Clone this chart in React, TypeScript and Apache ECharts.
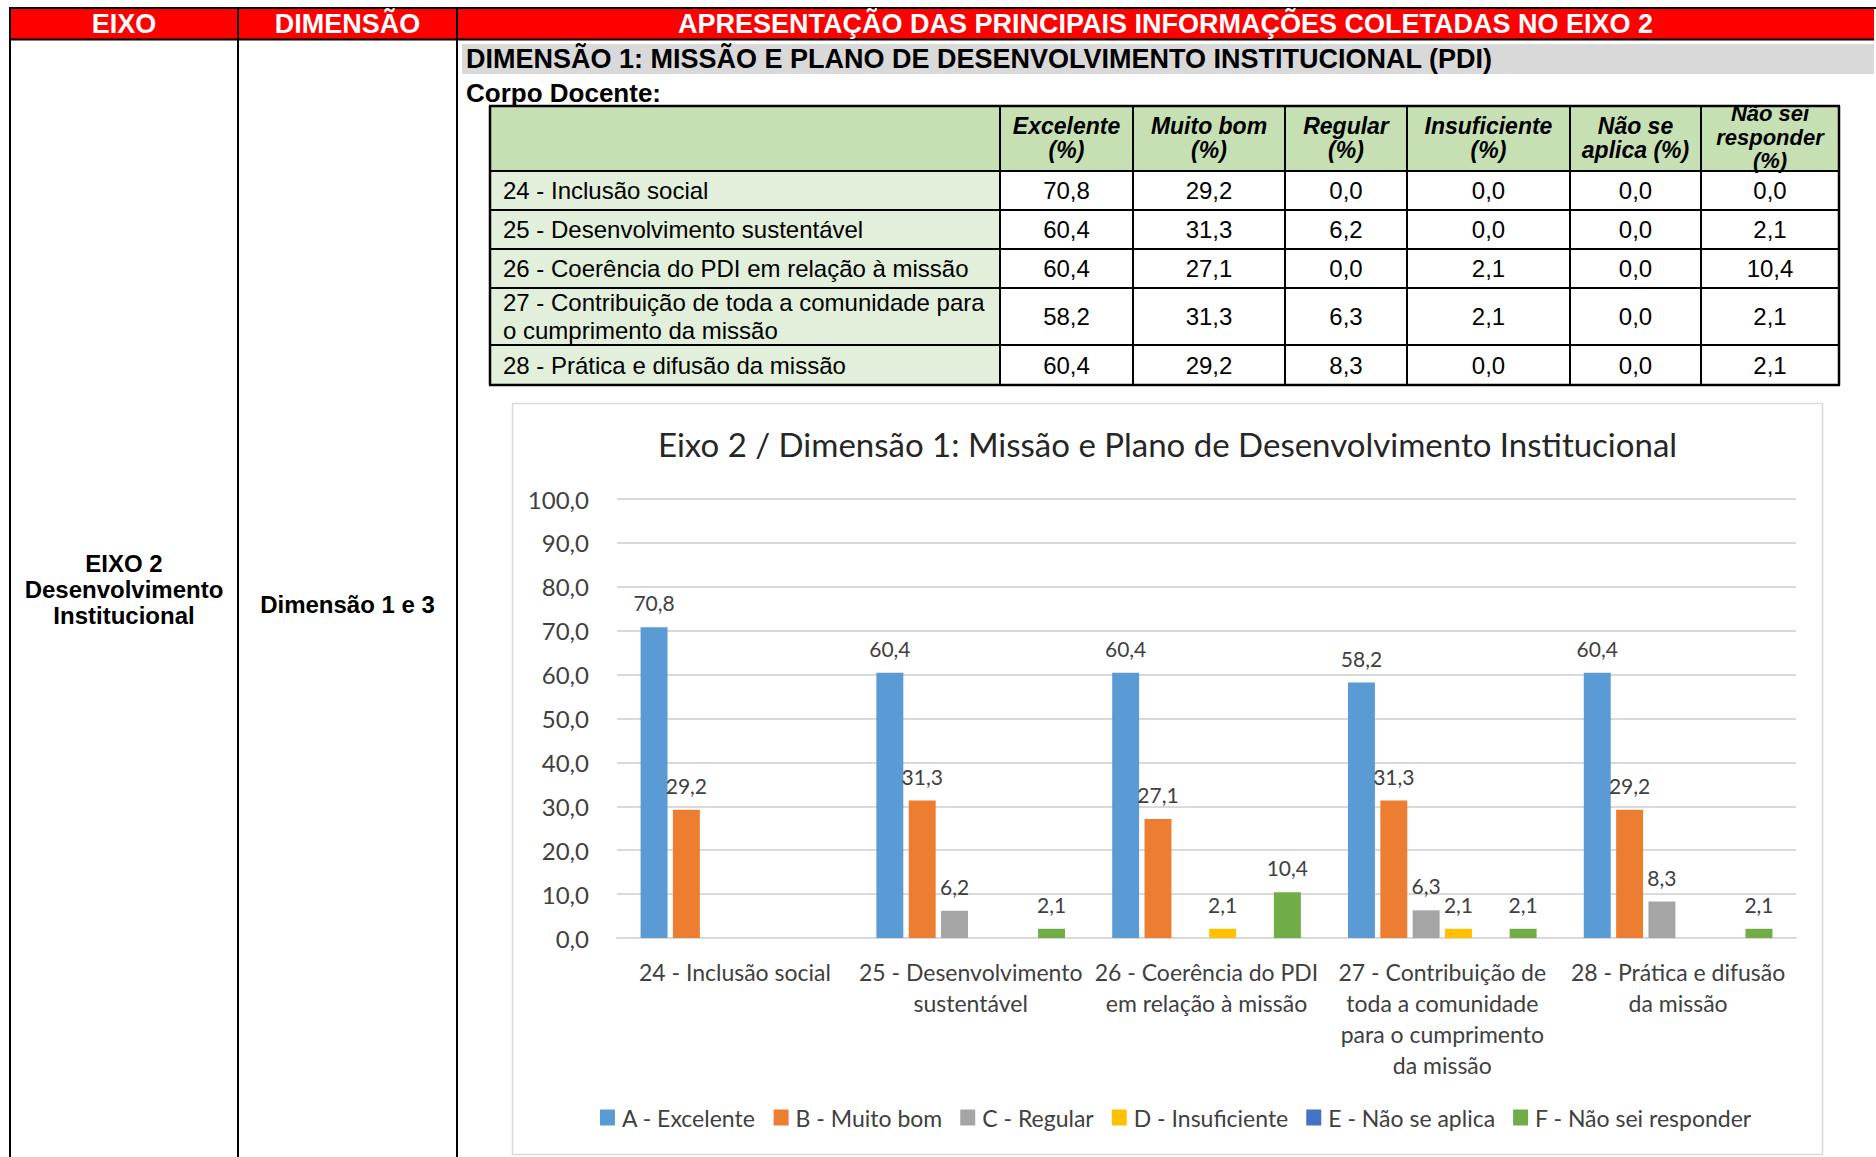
import React, { useEffect, useRef } from 'react';
import * as echarts from 'echarts';

// ---------------- DATA ----------------
const categories = [
  '24 - Inclusão social',
  '25 - Desenvolvimento sustentável',
  '26 - Coerência do PDI em relação à missão',
  '27 - Contribuição de toda a comunidade para o cumprimento da missão',
  '28 - Prática e difusão da missão',
];
const axisCategoryLabels = [
  '24 - Inclusão social',
  '25 - Desenvolvimento\nsustentável',
  '26 - Coerência do PDI\nem relação à missão',
  '27 - Contribuição de\ntoda a comunidade\npara o cumprimento\nda missão',
  '28 - Prática e difusão\nda missão',
];
const tableRowLabels = [
  '24 - Inclusão social',
  '25 - Desenvolvimento sustentável',
  '26 - Coerência do PDI em relação à missão',
  '27 - Contribuição de toda a comunidade para\no cumprimento da missão',
  '28 - Prática e difusão da missão',
];
const excelente = [70.8, 60.4, 60.4, 58.2, 60.4];
const muitoBom = [29.2, 31.3, 27.1, 31.3, 29.2];
const regular = [0.0, 6.2, 0.0, 6.3, 8.3];
const insuficiente = [0.0, 0.0, 2.1, 2.1, 0.0];
const naoSeAplica = [0.0, 0.0, 0.0, 0.0, 0.0];
const naoSeiResponder = [0.0, 2.1, 10.4, 2.1, 2.1];
const seriesNames = [
  'A - Excelente',
  'B - Muito bom',
  'C - Regular',
  'D - Insuficiente',
  'E - Não se aplica',
  'F - Não sei responder',
];
const tableHeaders = [
  'Excelente\n(%)',
  'Muito bom\n(%)',
  'Regular\n(%)',
  'Insuficiente\n(%)',
  'Não se\naplica (%)',
  'Não sei\nresponder\n(%)',
];
const pageHeaders = ['EIXO', 'DIMENSÃO', 'APRESENTAÇÃO DAS PRINCIPAIS INFORMAÇÕES COLETADAS NO EIXO 2'];
const eixoText = 'EIXO 2\nDesenvolvimento\nInstitucional';
const dimensaoText = 'Dimensão 1 e 3';
const sectionTitle = 'DIMENSÃO 1: MISSÃO E PLANO DE DESENVOLVIMENTO INSTITUCIONAL (PDI)';
const subTitle = 'Corpo Docente:';
const chartTitle = 'Eixo 2 / Dimensão 1: Missão e Plano de Desenvolvimento Institucional';
const colors = ['#5B9BD5', '#ED7D31', '#A5A5A5', '#FFC000', '#4472C4', '#70AD47'];

const allSeries = [excelente, muitoBom, regular, insuficiente, naoSeAplica, naoSeiResponder];

const fmt = (v: number) => v.toFixed(1).replace('.', ',');

// ---------------- LAYOUT ----------------
const W = 1876;
const H = 1157;
const ARIAL = '"Liberation Sans", Arial, sans-serif';
const CAL = 'Lato, "Noto Sans", sans-serif';

function txt(x: number, y: number, text: string, o: any = {}) {
  return {
    type: 'text',
    x,
    y,
    z: 10,
    style: {
      text,
      fill: o.fill || '#000',
      fontFamily: o.family || ARIAL,
      fontSize: o.size || 24,
      fontWeight: o.weight || 'normal',
      fontStyle: o.style || 'normal',
      lineHeight: o.lh,
      align: o.align || 'left',
      verticalAlign: 'middle',
      textAlign: o.align || 'left',
      textVerticalAlign: 'middle',
    },
  };
}
function ln(x1: number, y1: number, x2: number, y2: number, w = 2, c = '#000') {
  return { type: 'line', z: 9, shape: { x1, y1, x2, y2 }, style: { stroke: c, lineWidth: w } };
}
function rc(x: number, y: number, w: number, h: number, fill: string, z = 1) {
  return { type: 'rect', z, shape: { x, y, width: w, height: h }, style: { fill } };
}

function buildGraphics() {
  const g: any[] = [];
  // top header
  g.push(rc(10, 9, W - 12, 30, '#FF0000'));
  g.push(ln(9, 8, W, 8));
  g.push(ln(9, 39.5, W - 2, 39.5));
  const colX = [10, 238, 457, W - 2];
  pageHeaders.forEach((t, i) => {
    g.push(txt((colX[i] + colX[i + 1]) / 2, 24, t, { fill: '#fff', weight: 'bold', size: 27, align: 'center' }));
  });
  [10, 238, 457].forEach((x) => g.push(ln(x, 8, x, H)));
  g.push(txt(124, 589, eixoText, { weight: 'bold', size: 24, align: 'center', lh: 26 }));
  g.push(txt(347.5, 604, dimensaoText, { weight: 'bold', size: 24, align: 'center' }));

  // section title
  g.push(rc(462, 44, 1412, 30, '#D9D9D9'));
  g.push(txt(466, 58.5, sectionTitle, { weight: 'bold', size: 27 }));
  g.push(txt(466, 93, subTitle, { weight: 'bold', size: 26 }));

  // table
  const cols = [490, 1000, 1133, 1285, 1407, 1570, 1701, 1839];
  const rows = [106, 171, 210, 249, 288, 345, 385];
  g.push(rc(cols[0], rows[0], cols[7] - cols[0], rows[1] - rows[0], '#C6E0B4'));
  for (let r = 0; r < 5; r++) {
    g.push(rc(cols[0], rows[r + 1], cols[1] - cols[0], rows[r + 2] - rows[r + 1], '#E2EFDA'));
  }
  rows.forEach((y, i) => g.push(ln(cols[0] - 1, y, cols[7] + 1, y, i === 0 || i === rows.length - 1 ? 2.5 : 2)));
  cols.forEach((x, i) => g.push(ln(x, rows[0], x, rows[rows.length - 1], i === 0 || i === cols.length - 1 ? 2.5 : 2)));
  tableHeaders.forEach((t, i) => {
    const three = t.split('\n').length === 3;
    g.push(
      txt((cols[i + 1] + cols[i + 2]) / 2, three ? 137 : 138, t, {
        weight: 'bold',
        style: 'italic',
        size: three ? 22 : 23,
        align: 'center',
        lh: three ? 23.5 : 24,
      })
    );
  });
  tableRowLabels.forEach((t, r) => {
    const cy = (rows[r + 1] + rows[r + 2]) / 2;
    g.push(txt(503, cy, t, { size: 24, lh: 28 }));
    allSeries.forEach((s, c) => {
      g.push(txt((cols[c + 1] + cols[c + 2]) / 2, cy, fmt(s[r]), { size: 24, align: 'center' }));
    });
  });

  // chart frame + title
  g.push({
    type: 'rect',
    z: 0,
    shape: { x: 512.5, y: 403.5, width: 1310, height: 751 },
    style: { fill: 'none', stroke: '#D9D9D9', lineWidth: 1.5 },
  });
  g.push(txt(1167.5, 444, chartTitle, { family: CAL, size: 33, align: 'center', fill: '#262626' }));
  return g;
}

export default function App() {
  const ref = useRef<HTMLDivElement>(null);
  useEffect(() => {
    if (!ref.current) return;
    const chart = echarts.init(ref.current, undefined, { renderer: 'svg' });
    const option: any = {
      animation: false,
      backgroundColor: '#fff',
      graphic: { elements: buildGraphics() },
      grid: { left: 617, top: 499, width: 1796 - 617, height: 938 - 499, containLabel: false },
      legend: {
        data: seriesNames,
        left: 595,
        top: 1101,
        icon: 'rect',
        itemWidth: 15,
        itemHeight: 16,
        itemGap: 18,
        textStyle: { fontFamily: CAL, fontSize: 23, color: '#404040', padding: [0, 0, 0, 2] },
      },
      xAxis: {
        type: 'category',
        data: categories,
        axisLine: { show: true, lineStyle: { color: '#D9D9D9', width: 2 } },
        axisTick: { show: false },
        axisLabel: {
          interval: 0,
          margin: 18,
          fontFamily: CAL,
          fontSize: 23,
          lineHeight: 31,
          color: '#404040',
          formatter: (_v: string, i: number) => axisCategoryLabels[i],
        },
      },
      yAxis: {
        type: 'value',
        min: 0,
        max: 100,
        interval: 10,
        axisLine: { show: false },
        axisTick: { show: false },
        splitLine: { lineStyle: { color: '#D9D9D9', width: 2 } },
        axisLabel: {
          margin: 28,
          fontFamily: CAL,
          fontSize: 24,
          color: '#404040',
          formatter: (v: number) => fmt(v),
        },
      },
      series: allSeries.map((s, i) => ({
        name: seriesNames[i],
        type: 'bar',
        data: s,
        barGap: '20%',
        barCategoryGap: '20%',
        itemStyle: { color: colors[i] },
        label: {
          show: true,
          position: 'top',
          distance: 14,
          fontFamily: CAL,
          fontSize: 21,
          color: '#404040',
          formatter: (p: any) => (p.value === 0 ? '' : fmt(p.value)),
        },
      })),
    };
    chart.setOption(option);
    return () => chart.dispose();
  }, []);
  return (
    <div
      ref={ref}
      style={{ position: 'fixed', left: 0, top: 0, width: W + 'px', height: H + 'px', background: '#fff' }}
    />
  );
}
